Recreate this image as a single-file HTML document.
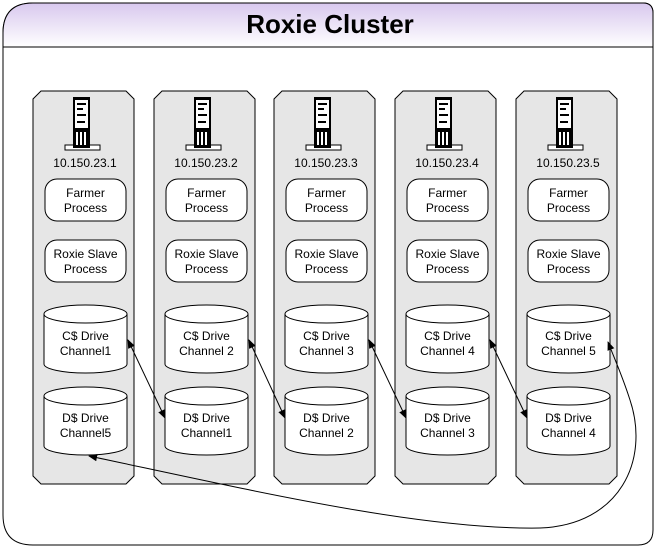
<!DOCTYPE html>
<html><head><meta charset="utf-8"><style>
body{margin:0;background:#fff}
svg text{font-family:"Liberation Sans",sans-serif;font-size:12px;fill:#000}
</style></head><body>
<svg width="657" height="548" viewBox="0 0 657 548" xmlns="http://www.w3.org/2000/svg">
<defs>
<linearGradient id="g" x1="0" y1="0" x2="0" y2="1"><stop offset="0" stop-color="#d8c8ee"/><stop offset="1" stop-color="#ffffff"/></linearGradient>
<marker id="ah" viewBox="0 0 10 10" refX="9" refY="5" markerWidth="9" markerHeight="9" orient="auto-start-reverse" markerUnits="userSpaceOnUse"><path d="M0,1 L10,5 L0,9 z" fill="#000"/></marker>
<g id="srv">
<rect x="65" y="145" width="35" height="5" fill="#fff" stroke="#000"/>
<rect x="73" y="97" width="17" height="51" fill="#000"/>
<rect x="75" y="100" width="13" height="28" fill="#fff"/>
<rect x="77" y="103" width="9" height="2" fill="#000"/><rect x="77" y="108" width="6" height="2" fill="#000"/><rect x="77" y="114" width="9" height="2" fill="#000"/><rect x="77" y="121" width="8" height="2" fill="#000"/>
<rect x="76" y="132" width="2" height="13" fill="#fff"/><rect x="80" y="132" width="2" height="13" fill="#fff"/><rect x="84" y="132" width="2" height="13" fill="#fff"/>
</g>
</defs>
<path d="M33,3 H643 Q653,3 653,13 V530 Q653,545 638,545 H33 Q3,545 3,515 V33 Q3,3 33,3 Z" fill="#fff" stroke="#000"/>
<path d="M33,3 H643 Q653,3 653,13 V47 H3 V33 Q3,3 33,3 Z" fill="url(#g)" stroke="#000"/>
<text x="330" y="33" text-anchor="middle" style="font-size:26px;font-weight:bold">Roxie Cluster</text>
<g id="col">
<path d="M41,91 H126 L134,99 V476 L126,484 H41 L33,476 V99 Z" fill="#e6e6e6" stroke="#000"/>
<use href="#srv"/>
<rect x="45" y="179" width="81" height="42" rx="12" fill="#fff" stroke="#000"/>
<rect x="45" y="240" width="81" height="42" rx="12" fill="#fff" stroke="#000"/>
<path d="M44,314 V364 A41.5,9 0 0 0 127,364 V314 A41.5,9 0 0 0 44,314 A41.5,9 0 0 0 127,314" fill="#fff" stroke="#000"/>
<path d="M44,396 V446 A41.5,9 0 0 0 127,446 V396 A41.5,9 0 0 0 44,396 A41.5,9 0 0 0 127,396" fill="#fff" stroke="#000"/>
<text x="85.5" y="197" text-anchor="middle">Farmer</text><text x="85.5" y="212" text-anchor="middle">Process</text>
<text x="85.5" y="258" text-anchor="middle">Roxie Slave</text><text x="85.5" y="273" text-anchor="middle">Process</text>
<text x="85.5" y="340" text-anchor="middle">C$ Drive</text>
<text x="85.5" y="422" text-anchor="middle">D$ Drive</text>
</g>
<use href="#col" x="121"/><use href="#col" x="241"/><use href="#col" x="362"/><use href="#col" x="483"/>
<text x="85" y="167" text-anchor="middle">10.150.23.1</text>
<text x="206" y="167" text-anchor="middle">10.150.23.2</text>
<text x="326" y="167" text-anchor="middle">10.150.23.3</text>
<text x="447" y="167" text-anchor="middle">10.150.23.4</text>
<text x="568" y="167" text-anchor="middle">10.150.23.5</text>
<text x="85.5" y="355" text-anchor="middle">Channel1</text><text x="85.5" y="437" text-anchor="middle">Channel5</text>
<text x="206.5" y="355" text-anchor="middle">Channel 2</text><text x="206.5" y="437" text-anchor="middle">Channel1</text>
<text x="326.5" y="355" text-anchor="middle">Channel 3</text><text x="326.5" y="437" text-anchor="middle">Channel 2</text>
<text x="447.5" y="355" text-anchor="middle">Channel 4</text><text x="447.5" y="437" text-anchor="middle">Channel 3</text>
<text x="568.5" y="355" text-anchor="middle">Channel 5</text><text x="568.5" y="437" text-anchor="middle">Channel 4</text>
<g stroke="#000" fill="none" marker-start="url(#ah)" marker-end="url(#ah)">
<line x1="128" y1="340" x2="165" y2="418"/>
<line x1="249" y1="340" x2="285" y2="418"/>
<line x1="369" y1="340" x2="406" y2="418"/>
<line x1="490" y1="340" x2="527" y2="418"/>
<path d="M89,456 C250,490 420,530 540,528 C620,525 650,460 630,400 C622,375 615,360 608,342"/>
</g>
</svg>
</body></html>
